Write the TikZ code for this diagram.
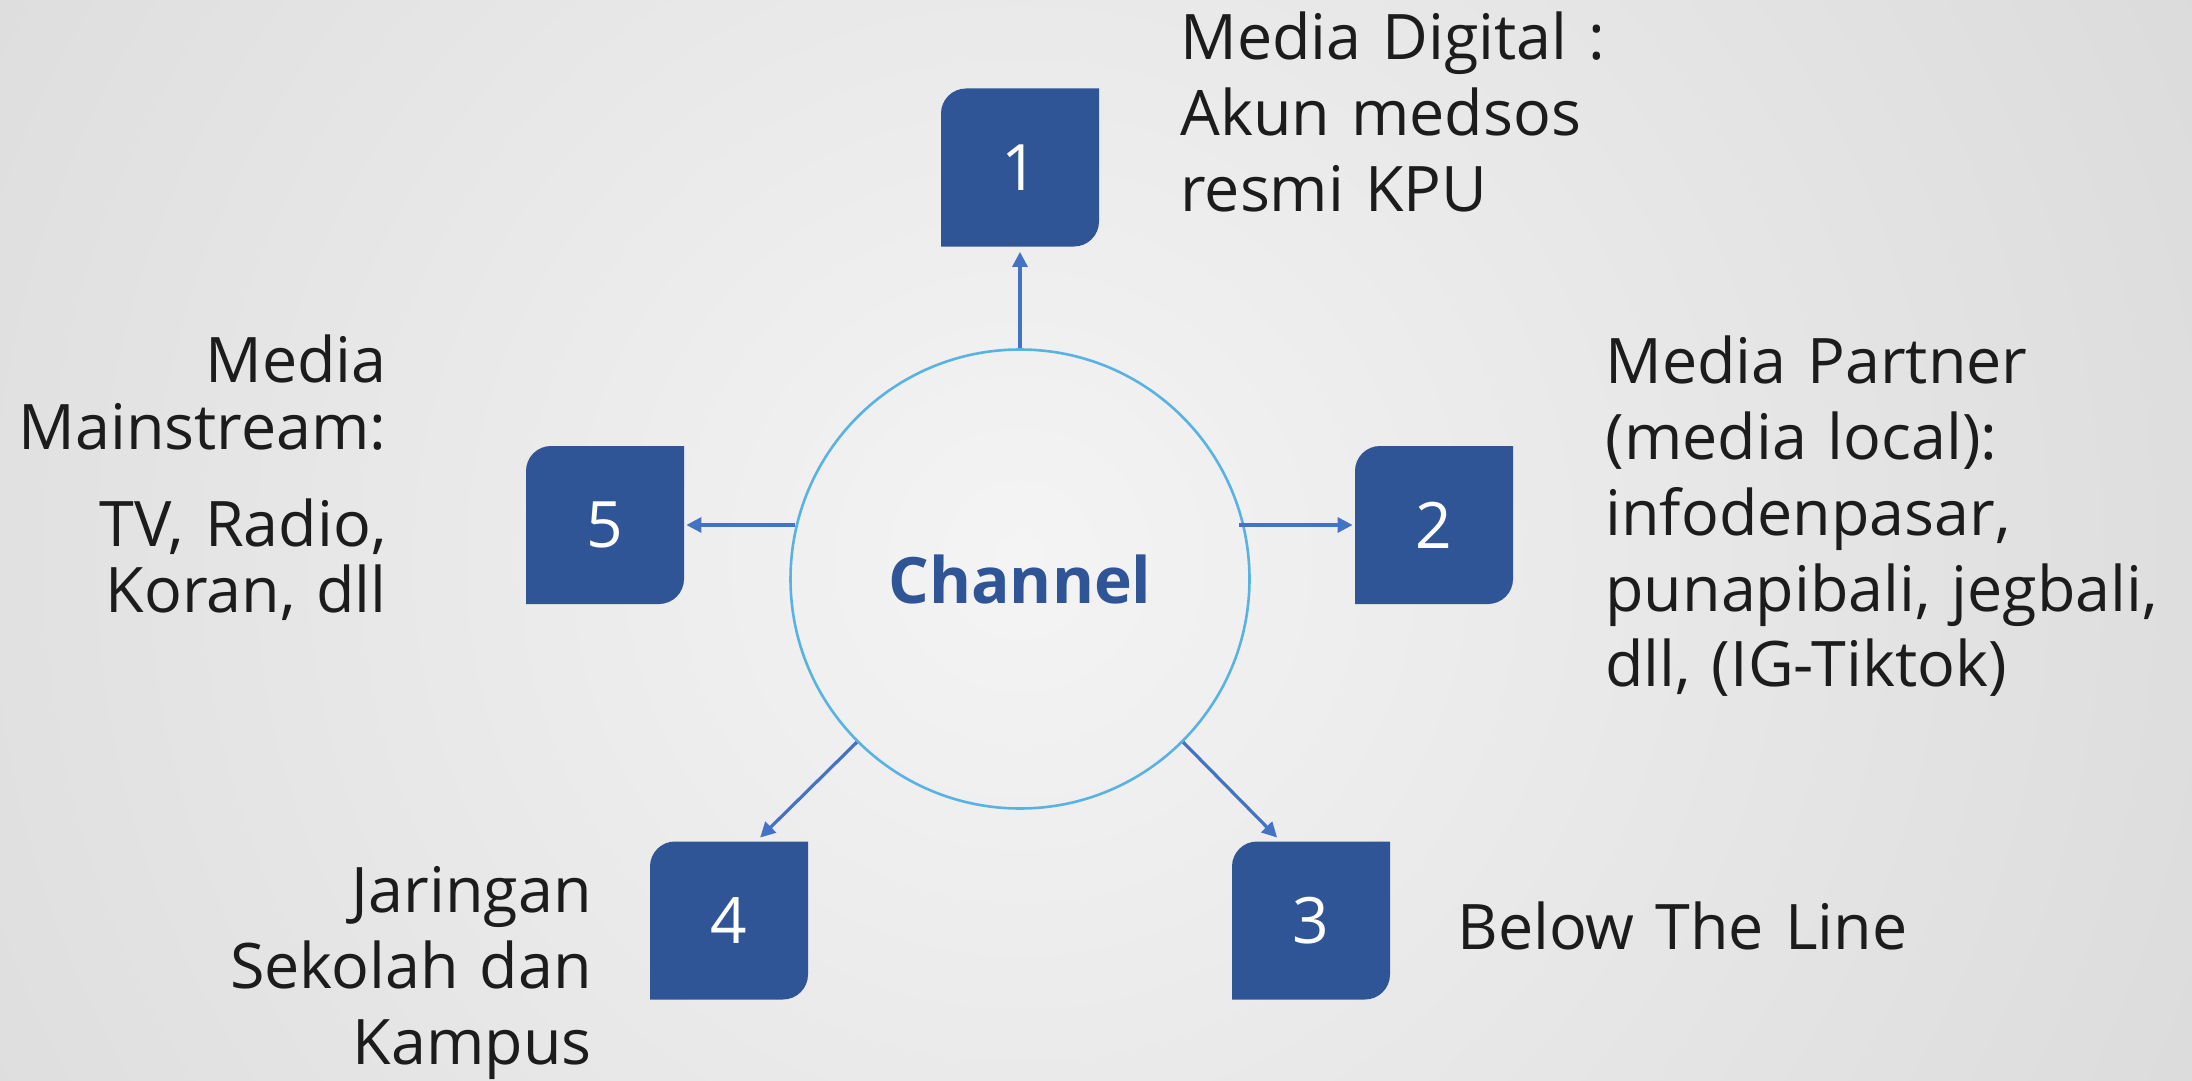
\documentclass[tikz,border=0pt]{standalone}
\usepackage{fontspec}
\setmainfont{Open Sans}
\usetikzlibrary{arrows.meta,calc}
\definecolor{boxblue}{HTML}{2F5597}
\definecolor{arrowblue}{HTML}{4472C4}
\definecolor{circblue}{HTML}{58B2E4}
\definecolor{txt}{HTML}{1C1C1C}
\definecolor{bgin}{HTML}{F4F4F4}
\definecolor{bgout}{HTML}{C2C2C2}
\pgfdeclareradialshading{bgshade}{\pgfpoint{0bp}{0bp}}{color(0bp)=(bgin); color(50bp)=(bgout)}
\tikzset{
  numbox/.style={minimum width=79pt, minimum height=79pt, inner sep=0pt, text=white,
    font=\fontsize{32}{38}\selectfont,
    path picture={
      \fill[boxblue] (path picture bounding box.south west)
        -- ([yshift=-12.5pt]path picture bounding box.north west)
        .. controls ([yshift=-5.6pt]path picture bounding box.north west) and ([xshift=5.6pt]path picture bounding box.north west) ..
        ([xshift=12.5pt]path picture bounding box.north west)
        -- (path picture bounding box.north east)
        -- ([yshift=12.5pt]path picture bounding box.south east)
        .. controls ([yshift=5.6pt]path picture bounding box.south east) and ([xshift=-5.6pt]path picture bounding box.south east) ..
        ([xshift=-12.5pt]path picture bounding box.south east)
        -- cycle;
    }},
  lbl/.style={inner sep=0pt, text=txt, text width=320pt, font=\fontsize{31.4}{38}\selectfont},
  arr/.style={draw=arrowblue, line width=1.6pt, -{Triangle[length=7.5pt,width=7.5pt]}},
}
\begin{document}
\begin{tikzpicture}[x=0.5pt,y=-0.5pt]
\useasboundingbox (0,0) rectangle (2192,1081);
\begin{scope}
\clip (0,0) rectangle (2192,1081);
\shade[shading=bgshade] (1020,560) circle (660pt);
\end{scope}

\node[circle, draw=circblue, line width=1.3pt, minimum size=229.5pt, inner sep=0pt,
  text=boxblue, font=\fontsize{32}{38}\selectfont\bfseries] (circ) at (1020,579) {Channel};

\node[numbox] (b1) at (1020,167.5) {1};
\node[numbox] (b2) at (1434,525) {2};
\node[numbox] (b3) at (1311,920.5) {3};
\node[numbox] (b4) at (729,920.5) {4};
\node[numbox] (b5) at (605,525) {5};

\draw[arr, shorten >=2.5pt] (circ.north) -- (b1.south);
\draw[arr, shorten >=1pt] ([xshift=-6pt]circ.east |- b2.west) -- (b2.west);
\draw[arr, shorten >=1pt] ([xshift=3pt]circ.west |- b5.east) -- (b5.east);
\draw[arr, shorten >=2.5pt] (circ.-45) -- ([xshift=24.5pt]b3.north west);
\draw[arr, shorten >=2.5pt] (circ.-135) -- ([xshift=53.5pt]b4.north west);

\node[lbl, align=left, anchor=base west] (l1) at (1180,60) {Media Digital :\\Akun medsos\\resmi KPU};
\node[lbl, align=left, anchor=base west] (l2) at (1605,383) {Media Partner\\(media local):\\infodenpasar,\\punapibali, jegbali,\\dll, (IG-Tiktok)};
\node[lbl, align=left, anchor=base west] (l3) at (1457,949) {Below The Line};
\node[lbl, align=right, anchor=base east] (l4) at (592,912) {Jaringan\\Sekolah dan\\Kampus};
\node[lbl, align=right, anchor=base east, font=\fontsize{31.4}{33.5}\selectfont] (l5) at (387,382) {Media\\Mainstream:\\[15pt]TV, Radio,\\Koran, dll};
\end{tikzpicture}
\end{document}
